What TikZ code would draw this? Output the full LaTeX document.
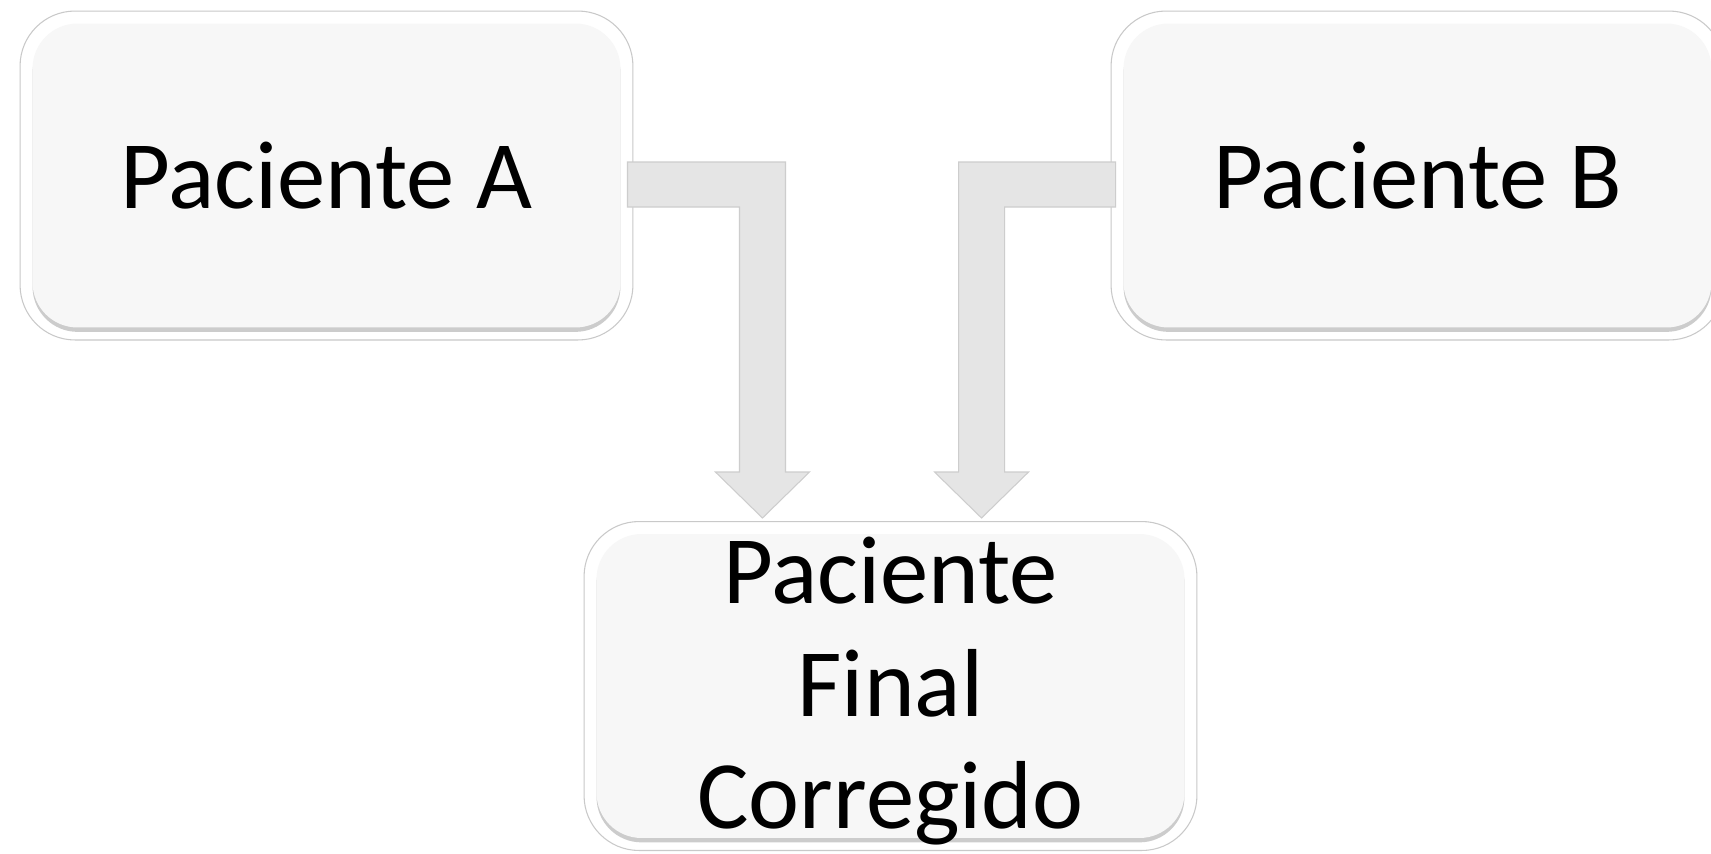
\documentclass[tikz,border=0pt]{standalone}
\usepackage{fontspec}
\setmainfont{Carlito}
\usepackage{tikz}
\usetikzlibrary{calc,shadows}
\definecolor{boxline}{HTML}{C9C9C9}
\definecolor{boxfill}{HTML}{F7F7F7}
\definecolor{arrowfill}{HTML}{E5E5E5}
\definecolor{arrowline}{HTML}{CDCDCD}

\begin{document}
\begin{tikzpicture}[x=0.02cm,y=-0.02cm,
    pnode/.style={draw=boxline,fill=white,line width=0.6pt,rounded corners=1.1cm,
      minimum width=12.26cm,minimum height=6.58cm,inner sep=0pt,align=center,
      font=\fontsize{55}{64}\selectfont,
      path picture={\fill[boxfill,rounded corners=0.9cm,
          drop shadow={shadow xshift=0pt,shadow yshift=-2.5pt,opacity=0.4,fill=gray}]
        ($(path picture bounding box.south west)+(0.25cm,0.25cm)$) rectangle
        ($(path picture bounding box.north east)+(-0.25cm,-0.25cm)$);}},
    barrow/.style={fill=arrowfill,draw=arrowline,line width=0.6pt,line join=miter}]
    \useasboundingbox (0,0) rectangle (1711,853);
    \fill[white] (0,0) rectangle (1711,853);

    \node[pnode] (A) at (326.5,175.5) {Paciente A};
    \node[pnode] (B) at (1417.5,175.5) {Paciente B};
    \node[pnode] (C) at (890.5,686) {\rule{0pt}{44pt}Paciente\\Final\\Corregido};

    \draw[barrow] ($(A.east)+(-6,-13.5)$) -- ++(158,0) -- ++(0,310) -- ++(24,0)
        -- ++(-47,46) -- ++(-47,-46) -- ++(24,0) -- ++(0,-265) -- ++(-112,0) -- cycle;
    \draw[barrow] ($(B.west)+(5,-13.5)$) -- ++(-157,0) -- ++(0,310) -- ++(-24,0)
        -- ++(47,46) -- ++(47,-46) -- ++(-24,0) -- ++(0,-265) -- ++(111,0) -- cycle;
\end{tikzpicture}
\end{document}
